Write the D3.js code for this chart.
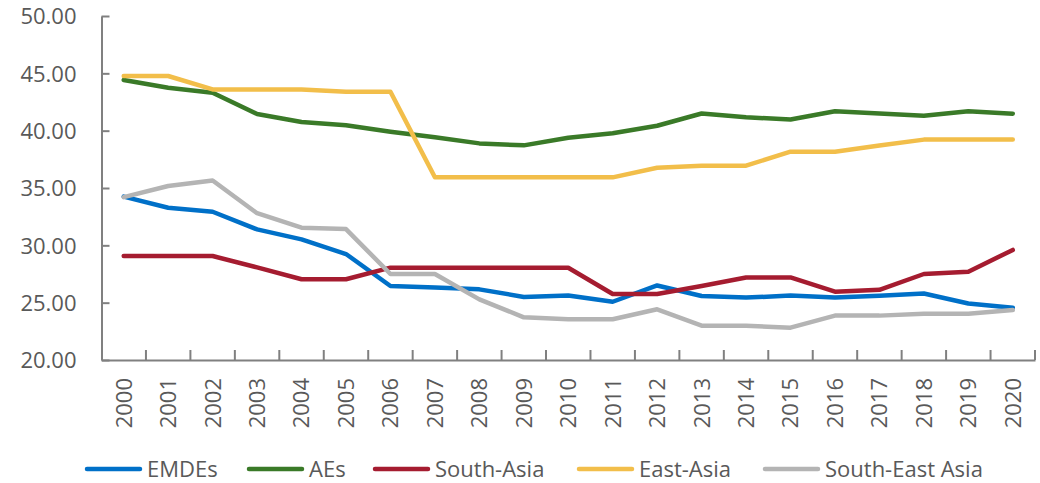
<!DOCTYPE html>
<html><head><meta charset="utf-8">
<script src="https://cdn.jsdelivr.net/npm/d3@7"></script>
<style>body{margin:0;background:#fff}svg{display:block}text{font-family:"Open Sans",sans-serif}</style>
</head><body><svg id="c" width="1040" height="483"></svg>
<script>
const years = ["2000","2001","2002","2003","2004","2005","2006","2007","2008","2009","2010","2011","2012","2013","2014","2015","2016","2017","2018","2019","2020"];
const seriesNames = ["EMDEs","AEs","South-Asia","East-Asia","South-East Asia"];
const emdes = [34.25,33.28,32.93,31.39,30.52,29.24,26.45,26.32,26.16,25.5,25.62,25.08,26.5,25.58,25.44,25.62,25.46,25.61,25.8,24.93,24.56];
const aes = [44.42,43.75,43.31,41.45,40.76,40.47,39.91,39.42,38.89,38.72,39.39,39.77,40.43,41.5,41.16,40.98,41.69,41.5,41.3,41.69,41.48];
const southAsia = [29.07,29.07,29.07,28.08,27.04,27.04,28.05,28.05,28.05,28.05,28.05,25.76,25.76,26.45,27.2,27.2,25.96,26.12,27.5,27.7,29.6];
const eastAsia = [44.77,44.77,43.6,43.6,43.6,43.4,43.4,35.93,35.93,35.93,35.93,35.93,36.77,36.95,36.95,38.17,38.17,38.7,39.22,39.22,39.22];
const seAsia = [34.2,35.17,35.65,32.8,31.54,31.42,27.5,27.5,25.29,23.72,23.55,23.55,24.42,22.99,22.99,22.82,23.87,23.87,24.04,24.04,24.36];
const yTicks = [20,25,30,35,40,45,50];

const colors = ["#0070C8","#3A7A28","#A51C30","#F2BE4A","#B4B4B4"];
const data = [emdes, aes, southAsia, eastAsia, seAsia];

const svg = d3.select("#c");
const mL = 101.5, mR = 1035, mT = 16, mB = 360;
const x = d3.scaleBand().domain(years).range([mL, mR]);
const y = d3.scaleLinear().domain([20,50]).range([mB, mT]);
const axisColor = "#808080", textColor = "#595959";

// y axis
const ya = svg.append("g").attr("transform",`translate(${mL},0)`)
  .call(d3.axisLeft(y).tickValues(yTicks).tickFormat(d3.format(".2f")).tickSizeInner(-8).tickSizeOuter(0).tickPadding(25));
ya.select(".domain").attr("stroke",axisColor).attr("stroke-width",2);
ya.selectAll(".tick line").attr("stroke",axisColor).attr("stroke-width",2);
ya.selectAll(".tick text").attr("fill",textColor).style("font-size","22px").attr("dy","0.36em");

// x axis
const xa = svg.append("g").attr("transform",`translate(0,${mB})`)
  .call(d3.axisBottom(x).tickSize(0).tickPadding(0));
xa.select(".domain").attr("stroke",axisColor).attr("stroke-width",2);
xa.selectAll(".tick text").attr("fill",textColor).style("font-size","22px")
  .attr("transform","rotate(-90)").attr("text-anchor","end").attr("x",-18).attr("y",0).attr("dy","0.36em");
// inside tick marks at category boundaries
const bounds = years.slice(1).map(d => x(d)).concat([x.range()[1]]);
svg.append("g").selectAll("line").data(bounds).join("line")
  .attr("x1",d=>d).attr("x2",d=>d).attr("y1",mB).attr("y2",mB-10)
  .attr("stroke",axisColor).attr("stroke-width",2);

// lines
const line = d3.line().x((d,i)=>x(years[i])+x.bandwidth()/2).y(d=>y(d));
svg.append("g").selectAll("path").data(data).join("path")
  .attr("d",line).attr("fill","none").attr("stroke",(d,i)=>colors[i])
  .attr("stroke-width",4.5).attr("stroke-linejoin","round").attr("stroke-linecap","round");

// legend
const legX = [87,249,375,579,765];
const lg = svg.append("g").selectAll("g").data(seriesNames).join("g")
  .attr("transform",(d,i)=>`translate(${legX[i]},469)`);
lg.append("line").attr("x1",0).attr("x2",53).attr("stroke",(d,i)=>colors[i])
  .attr("stroke-width",4.5).attr("stroke-linecap","round");
lg.append("text").attr("x",60).attr("dy","0.36em").attr("fill",textColor)
  .style("font-size","22px").text(d=>d);
</script></body></html>
